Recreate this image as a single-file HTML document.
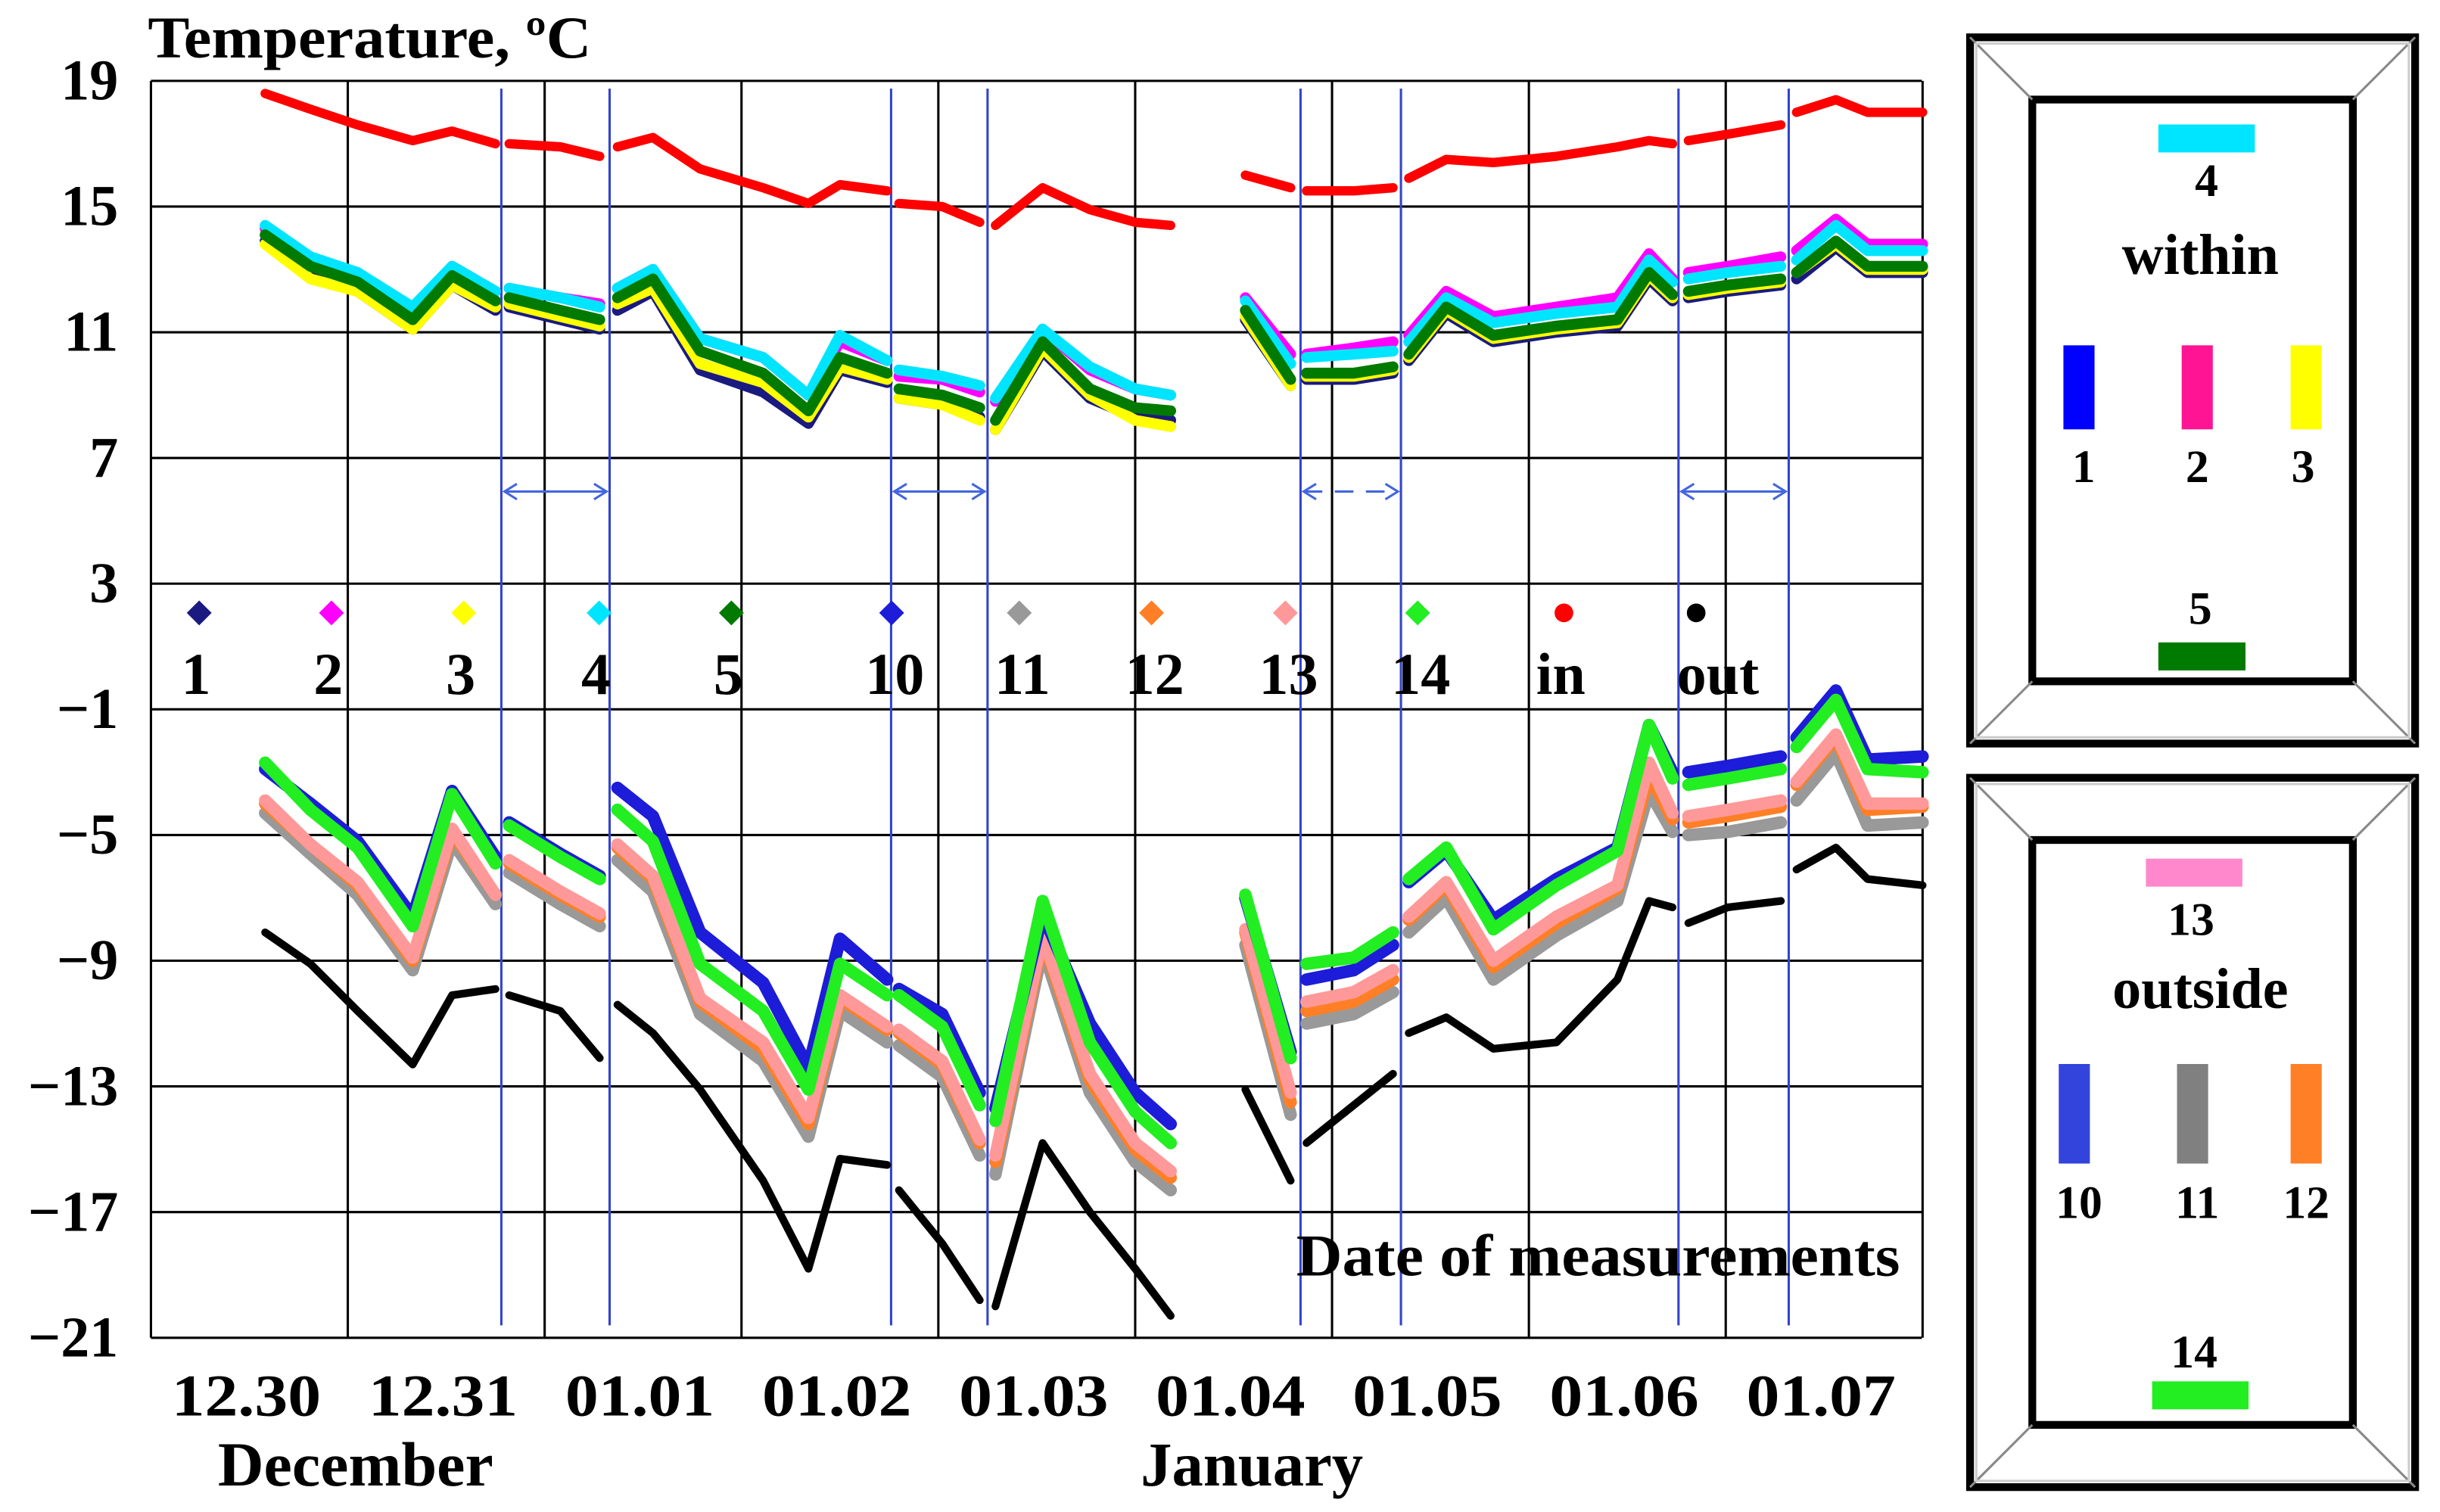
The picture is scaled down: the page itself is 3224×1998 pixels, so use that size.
<!DOCTYPE html>
<html><head><meta charset="utf-8"><style>
html,body{margin:0;padding:0;background:#fff}
svg{display:block}
text{font-family:"Liberation Serif",serif;font-weight:bold;fill:#000}
</style></head><body>
<svg id="chart" width="3224" height="1998" viewBox="0 0 1568 972" preserveAspectRatio="none" xmlns="http://www.w3.org/2000/svg">
<rect x="0" y="0" width="1568" height="972" fill="#fff"/>
<g id="grid"></g>
<g id="series"></g>
<g id="axes"></g>
<text x="95" y="37" font-size="38" textLength="285" lengthAdjust="spacingAndGlyphs">Temperature, ºC</text>
<text x="833" y="820" font-size="38" textLength="388" lengthAdjust="spacingAndGlyphs">Date of measurements</text>
<text x="140" y="955" font-size="40" textLength="177" lengthAdjust="spacingAndGlyphs">December</text>
<text x="733" y="955" font-size="40" textLength="143" lengthAdjust="spacingAndGlyphs">January</text>
<g id="legend"></g>
<g id="boxes"></g>
</svg>
<script>
// ---- data ----
const yTicks = [19, 15, 11, 7, 3, -1, -5, -9, -13, -17, -21];
const dayLabels = ["12.30","12.31","01.01","01.02","01.03","01.04","01.05","01.06","01.07"];
const times = [0.58,0.81,1.05,1.33,1.53,1.75, 1.82,2.08,2.28, 2.37,2.55,2.79,3.11,3.34,3.50,3.74, 3.80,4.02,4.21, 4.29,4.53,4.77,5.00,5.18, 5.56,5.79, 5.87,6.11,6.31, 6.39,6.58,6.82,7.14,7.45,7.61,7.73, 7.81,8.01,8.28, 8.36,8.56,8.72,9.00];
const segments = [0,0,0,0,0,0, 1,1,1, 2,2,2,2,2,2,2, 3,3,3, 4,4,4,4,4, 5,5, 6,6,6, 7,7,7,7,7,7,7, 8,8,8, 9,9,9,9];
const tempIn = [18.6,18.1,17.6,17.1,17.4,17.0, 17.0,16.9,16.6, 16.9,17.2,16.2,15.6,15.1,15.7,15.5, 15.1,15.0,14.5, 14.4,15.6,14.9,14.5,14.4, 16.0,15.6, 15.5,15.5,15.6, 15.9,16.5,16.4,16.6,16.9,17.1,17.0, 17.1,17.3,17.6, 18.0,18.4,18.0,18.0];
const within1 = [13.9,12.8,12.3,11.1,12.5,11.7, 11.8,11.4,11.1, 11.7,12.3,9.8,9.1,8.1,9.8,9.4, 8.9,8.7,8.3, 7.9,10.4,8.9,8.3,8.2, 11.4,9.3, 9.5,9.5,9.7, 10.1,11.6,10.7,11.0,11.2,12.7,12.0, 12.1,12.3,12.5, 12.7,13.7,12.9,12.9];
const within2 = [14.3,13.3,12.9,11.7,13.1,12.3, 12.4,12.1,11.9, 12.4,13.0,10.8,10.2,9.0,10.7,10.1, 9.6,9.5,9.1, 8.8,11.1,9.8,9.2,9.0, 12.1,10.3, 10.3,10.5,10.7, 10.9,12.3,11.5,11.8,12.1,13.5,12.7, 12.9,13.1,13.4, 13.6,14.6,13.8,13.8];
const within3 = [13.8,12.7,12.3,11.1,12.5,11.8, 11.9,11.5,11.2, 11.9,12.4,10.0,9.4,8.3,9.9,9.5, 8.9,8.7,8.2, 7.9,10.5,9.0,8.2,8.0, 11.5,9.3, 9.6,9.6,9.8, 10.2,11.7,10.8,11.1,11.3,12.8,12.1, 12.2,12.4,12.6, 12.9,13.8,13.0,13.0];
const within4 = [14.4,13.4,12.9,11.8,13.1,12.3, 12.4,12.1,11.8, 12.4,13.0,10.8,10.2,9.0,10.9,10.1, 9.8,9.6,9.3, 8.9,11.1,9.9,9.2,9.0, 12.0,10.0, 10.2,10.3,10.4, 10.7,12.1,11.3,11.6,11.8,13.3,12.6, 12.7,12.9,13.1, 13.3,14.4,13.6,13.6];
const within5 = [14.1,13.1,12.6,11.4,12.8,12.0, 12.1,11.7,11.4, 12.1,12.7,10.4,9.7,8.5,10.2,9.7, 9.2,9.0,8.6, 8.2,10.7,9.2,8.6,8.5, 11.7,9.5, 9.7,9.7,9.9, 10.3,11.8,10.9,11.2,11.4,12.9,12.2, 12.3,12.5,12.7, 12.9,13.9,13.1,13.1];
const outside10 = [-2.9,-4.0,-5.2,-7.6,-3.6,-5.7, -4.6,-5.6,-6.3, -3.5,-4.4,-8.1,-9.7,-12.4,-8.3,-9.6, -9.9,-10.7,-13.2, -13.7,-7.5,-11.0,-13.2,-14.2, -7.0,-11.9, -9.6,-9.3,-8.5, -6.5,-5.5,-7.7,-6.4,-5.4,-1.5,-3.0, -3.0,-2.8,-2.5, -1.9,-0.4,-2.6,-2.5];
const outside11 = [-4.3,-5.6,-6.9,-9.3,-5.2,-7.2, -6.2,-7.2,-7.9, -5.8,-6.8,-10.7,-12.2,-14.6,-10.6,-11.6, -11.7,-12.7,-15.2, -15.8,-8.6,-13.2,-15.4,-16.3, -8.5,-13.9, -11.0,-10.7,-10.0, -8.1,-7.0,-9.6,-8.2,-7.1,-3.6,-4.9, -5.0,-4.9,-4.6, -3.9,-2.4,-4.7,-4.6];
const outside12 = [-4.0,-5.3,-6.6,-9.0,-4.9,-6.9, -5.9,-6.9,-7.6, -5.4,-6.4,-10.3,-11.8,-14.2,-10.2,-11.2, -11.3,-12.3,-14.8, -15.4,-8.3,-12.8,-15.0,-15.9, -8.1,-13.5, -10.6,-10.3,-9.6, -7.7,-6.6,-9.2,-7.8,-6.7,-3.1,-4.5, -4.6,-4.4,-4.1, -3.4,-1.9,-4.2,-4.1];
const outside13 = [-3.9,-5.3,-6.5,-8.9,-4.8,-6.9, -5.8,-6.8,-7.5, -5.3,-6.3,-10.2,-11.6,-14.0,-10.1,-11.1, -11.2,-12.2,-14.7, -15.2,-8.2,-12.6,-14.8,-15.7, -8.0,-13.2, -10.3,-10.0,-9.3, -7.6,-6.5,-9.0,-7.6,-6.6,-2.7,-4.3, -4.4,-4.2,-3.9, -3.3,-1.8,-4.0,-4.0];
const outside14 = [-2.7,-4.2,-5.4,-7.9,-3.7,-5.9, -4.7,-5.7,-6.4, -4.2,-5.2,-9.1,-10.6,-13.1,-9.1,-10.1, -10.1,-11.1,-13.6, -14.1,-7.1,-11.6,-13.8,-14.8, -6.9,-12.1, -9.1,-8.9,-8.1, -6.4,-5.4,-8.0,-6.6,-5.5,-1.5,-3.2, -3.4,-3.2,-2.9, -2.2,-0.7,-2.9,-3.0];
const tempOut = [-8.1,-9.1,-10.6,-12.3,-10.1,-9.9, -10.1,-10.6,-12.1, -10.4,-11.3,-13.1,-16.0,-18.8,-15.3,-15.5, -16.3,-18.0,-19.8, -20.0,-14.8,-17.0,-18.8,-20.3, -13.1,-16.0, -14.8,-13.6,-12.6, -11.3,-10.8,-11.8,-11.6,-9.6,-7.1,-7.3, -7.8,-7.3,-7.1, -6.1,-5.4,-6.4,-6.6];
const blueLineDays = [1.78,2.33,3.76,4.25,5.84,6.35,7.76,8.32];
const legendLabels = ["1","2","3","4","5","10","11","12","13","14","in","out"];
const legendColors = ["#1a1a80","#ff00ff","#ffff00","#00e5ff","#007a00","#1c1cd9","#999999","#ff7f27","#ff9999","#22ee22","#ff0000","#000000"];

// ---- axes ----
const X0=97, X1=1235, DAYW=126.5, Y19=52, PXU=20.2;
const xs = t => X0 + DAYW*t;
const ys = v => Y19 + (19 - v)*PXU;
const NS="http://www.w3.org/2000/svg";
function mk(tag, attrs, parent){const e=document.createElementNS(NS,tag);for(const k in attrs)e.setAttribute(k,attrs[k]);parent.appendChild(e);return e;}
const grid=document.getElementById('grid'), axes=document.getElementById('axes'), ser=document.getElementById('series'), leg=document.getElementById('legend'), boxes=document.getElementById('boxes');

yTicks.forEach((v,i)=>{
  const l=mk('line',{x1:X0,x2:X1,y1:ys(v),y2:ys(v),stroke:'#000','stroke-width':1.5},grid);
  
  
  const t=mk('text',{x:76,y:ys(v)+12,'text-anchor':'end','font-size':37},axes);
  t.textContent = v<0 ? '\u2212'+Math.abs(v) : String(v);
  
  
});
for(let d=1; d<=9; d++){
  const l=mk('line',{x1:xs(d),x2:xs(d),y1:ys(19),y2:ys(-21),stroke:'#000','stroke-width':1.5},grid);
  
  
}
mk('line',{x1:X0,x2:X0,y1:ys(19),y2:ys(-21),stroke:'#000','stroke-width':1.5},axes);
dayLabels.forEach((s,i)=>{
  const t=mk('text',{x:xs(i+0.5)-2,y:910,'text-anchor':'middle','font-size':38,textLength:96,lengthAdjust:'spacingAndGlyphs'},axes);
  t.textContent=s;
  
  
});
blueLineDays.forEach(d=>{
  const l=mk('line',{x1:xs(d),x2:xs(d),y1:ys(19)+5,y2:ys(-21)-8,stroke:'#3344cc','stroke-width':1.5},grid);
  
  
});
for(let i=0;i<blueLineDays.length;i+=2){
  const a=xs(blueLineDays[i])+2, b=xs(blueLineDays[i+1])-2, y=316;
  const g=mk('g',{stroke:'#4466dd','stroke-width':1.5,fill:'none'},grid);
  
  
  mk('line',{x1:a,x2:b,y1:y,y2:y,'stroke-dasharray':i==4?'12,8':'none'},g);
  mk('polyline',{points:`${a+8},${y-5} ${a},${y} ${a+8},${y+5}`},g);
  mk('polyline',{points:`${b-8},${y-5} ${b},${y} ${b-8},${y+5}`},g);
}

// ---- series ----
function drawSeries(vals,color,name,w){
  let segs={};
  times.forEach((t,i)=>{(segs[segments[i]]=segs[segments[i]]||[]).push(xs(t).toFixed(1)+','+ys(vals[i]).toFixed(1));});
  for(const k in segs){
    const p=mk('polyline',{points:segs[k].join(' '),fill:'none',stroke:color,'stroke-width':w,'stroke-linejoin':'round','stroke-linecap':'round'},ser);
    
    
  }
}
drawSeries(tempOut,'#000','series-out',5);
drawSeries(outside11,'#999999','series-11',8);
drawSeries(outside12,'#ff7f27','series-12',8);
drawSeries(outside13,'#ff9999','series-13',8);
drawSeries(outside10,'#1c1cd9','series-10',8);
drawSeries(outside14,'#22ee22','series-14',8);
drawSeries(within1,'#1a1a80','series-1',7);
drawSeries(within3,'#ffff00','series-3',7);
drawSeries(within2,'#ff00ff','series-2',7);
drawSeries(within4,'#00e5ff','series-4',7);
drawSeries(within5,'#007a00','series-5',7);
drawSeries(tempIn,'#ff0000','series-in',6);

// ---- legend row ----
const legX=[128,213,298,385,470,573,655,740,826,911,1005,1090];
legendLabels.forEach((s,i)=>{
  const g=mk('g',{},leg);
  
  
  const x=legX[i];
  if(s==='in'||s==='out') mk('circle',{cx:x,cy:394,r:6,fill:legendColors[i]},g);
  else mk('polygon',{points:`${x},386 ${x+8},394 ${x},402 ${x-8},394`,fill:legendColors[i]},g);
  const tx = (s==='out')? x+14 : (s==='10'||s==='12'||s==='13'||s==='14'||s==='11')? x+2 : x-2;
  const t=mk('text',{x:tx,y:446,'text-anchor':'middle','font-size':38},g);
  t.textContent=s;
});

// ---- side boxes ----
function frame(y0,h,name){
  const g=mk('g',{},boxes);
  
  
  const x0=1266,w=286,i=40;
  mk('rect',{x:x0,y:y0,width:w,height:h,fill:'#fff',stroke:'#000','stroke-width':5},g);
  mk('rect',{x:x0+i,y:y0+i,width:w-2*i,height:h-2*i,fill:'#fff',stroke:'#000','stroke-width':5},g);
  [[x0,y0,x0+i,y0+i],[x0+w,y0,x0+w-i,y0+i],[x0,y0+h,x0+i,y0+h-i],[x0+w,y0+h,x0+w-i,y0+h-i]].forEach(c=>mk('line',{x1:c[0],y1:c[1],x2:c[2],y2:c[3],stroke:'#888','stroke-width':1.5},g));
  mk('rect',{x:x0+4,y:y0+4,width:w-8,height:h-8,fill:'none',stroke:'#ccc','stroke-width':1.5},g);
  return g;
}
function txt(g,x,y,s,sz){const t=mk('text',{x:x,y:y,'text-anchor':'middle','font-size':sz},g);t.textContent=s;return t;}
const b1=frame(24,454,'legend-box-within');
mk('rect',{x:1387,y:80,width:62,height:18,fill:'#00e5ff'},b1); txt(b1,1418,126,'4',30);
txt(b1,1414,176,'within',37);
mk('rect',{x:1326,y:222,width:20,height:54,fill:'#0000ff'},b1); txt(b1,1339,310,'1',30);
mk('rect',{x:1402,y:222,width:20,height:54,fill:'#ff1493'},b1); txt(b1,1412,310,'2',30);
mk('rect',{x:1472,y:222,width:20,height:54,fill:'#ffff00'},b1); txt(b1,1480,310,'3',30);
txt(b1,1414,401,'5',30); mk('rect',{x:1387,y:413,width:56,height:18,fill:'#007a00'},b1);
const b2=frame(500,456,'legend-box-outside');
mk('rect',{x:1379,y:552,width:62,height:18,fill:'#ff88cc'},b2); txt(b2,1408,601,'13',30);
txt(b2,1414,648,'outside',37);
mk('rect',{x:1323,y:684,width:20,height:64,fill:'#3344dd'},b2); txt(b2,1336,783,'10',30);
mk('rect',{x:1399,y:684,width:20,height:64,fill:'#808080'},b2); txt(b2,1412,783,'11',30);
mk('rect',{x:1472,y:684,width:20,height:64,fill:'#ff7f27'},b2); txt(b2,1482,783,'12',30);
txt(b2,1410,879,'14',30); mk('rect',{x:1383,y:888,width:62,height:18,fill:'#22ee22'},b2);
</script>
</body></html>
